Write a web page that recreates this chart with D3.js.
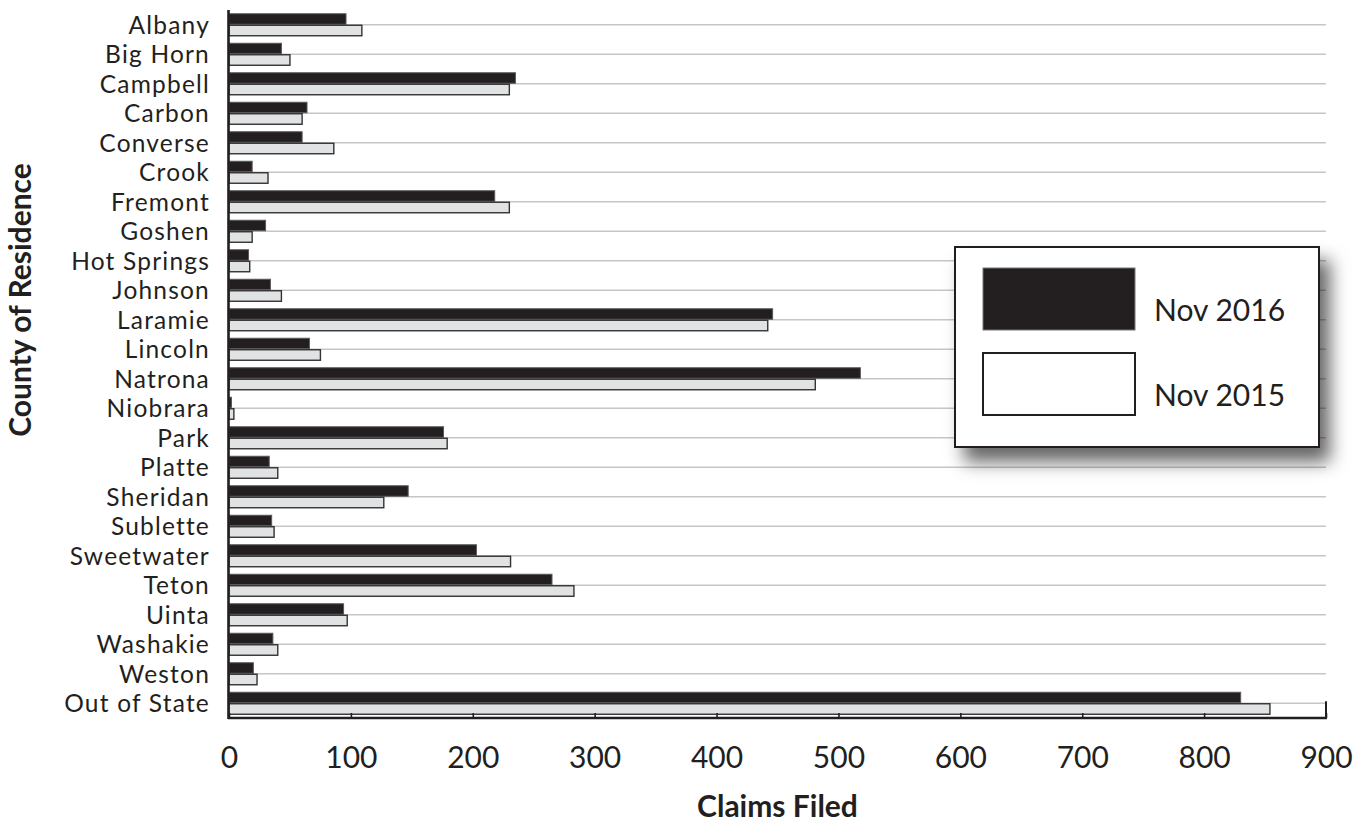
<!DOCTYPE html>
<html>
<head>
<meta charset="utf-8">
<script src="https://cdn.jsdelivr.net/npm/d3@7"></script>
<style>
  html, body { margin: 0; padding: 0; background: #fff; }
  text { font-family: Lato, "Open Sans", sans-serif; fill: #231f20; }
</style>
</head>
<body>
<div class="chart-wrapper"></div>
<script>
const counties = ["Albany", "Big Horn", "Campbell", "Carbon", "Converse", "Crook", "Fremont", "Goshen",
  "Hot Springs", "Johnson", "Laramie", "Lincoln", "Natrona", "Niobrara", "Park", "Platte", "Sheridan",
  "Sublette", "Sweetwater", "Teton", "Uinta", "Washakie", "Weston", "Out of State"];

const nov2016 = [96, 43, 235, 64, 60, 19, 218, 30, 16, 34, 446, 66, 518, 2, 176, 33, 147, 35, 203, 265, 94, 36, 20, 830];
const nov2015 = [109, 50, 230, 60, 86, 32, 230, 19, 17, 43, 442, 75, 481, 4, 179, 40, 127, 37, 231, 283, 97, 40, 23, 854];

const seriesNames = ["Nov 2016", "Nov 2015"];
const xTicks = [0, 100, 200, 300, 400, 500, 600, 700, 800, 900];

const width = 1360;
const height = 825;
const margin = { top: 10, right: 34, bottom: 107, left: 229 };

const rows = counties.map((c, i) => ({ county: c, values: [nov2016[i], nov2015[i]] }));

const svg = d3.select(".chart-wrapper").append("svg")
  .attr("width", width)
  .attr("height", height);

const x = d3.scaleLinear()
  .domain([0, 900])
  .range([margin.left, width - margin.right]);

const y = d3.scaleBand()
  .domain(counties)
  .range([margin.top, height - margin.bottom]);

const barBlock = 23;
const inner = d3.scaleBand()
  .domain(seriesNames)
  .range([(y.bandwidth() - barBlock) / 2, (y.bandwidth() + barBlock) / 2]);

const fills = { "Nov 2016": "#231f20", "Nov 2015": "#e1e2e3" };
const strokes = { "Nov 2016": "#5a5a5a", "Nov 2015": "#333" };

// gridlines through the middle of each county
svg.append("g")
  .selectAll("line")
  .data(counties)
  .join("line")
  .attr("x1", x(0))
  .attr("x2", x(900))
  .attr("y1", d => y(d) + y.bandwidth() / 2)
  .attr("y2", d => y(d) + y.bandwidth() / 2)
  .attr("stroke", "#c6c6c6")
  .attr("stroke-width", 1.4);

// bars
const group = svg.append("g")
  .selectAll("g")
  .data(rows)
  .join("g")
  .attr("transform", d => `translate(0,${y(d.county)})`);

group.selectAll("rect")
  .data(d => d.values.map((v, i) => ({ key: seriesNames[i], value: v })))
  .join("rect")
  .attr("x", x(0))
  .attr("y", d => inner(d.key) + 0.5)
  .attr("width", d => x(d.value) - x(0))
  .attr("height", inner.bandwidth() - 1)
  .attr("fill", d => fills[d.key])
  .attr("stroke", d => strokes[d.key])
  .attr("stroke-width", d => d.key === "Nov 2015" ? 1.4 : 1);

// category labels
svg.append("g")
  .selectAll("text")
  .data(counties)
  .join("text")
  .attr("x", margin.left - 19)
  .attr("y", d => y(d) + y.bandwidth() / 2)
  .attr("dy", "0.36em")
  .attr("text-anchor", "end")
  .style("font-size", "24.5px")
  .style("letter-spacing", "1.2px")
  .text(d => d);

// axes
const yBottom = height - margin.bottom;

const xAxis = svg.append("g")
  .attr("transform", `translate(0,${yBottom})`)
  .call(d3.axisBottom(x).tickValues(xTicks).tickSize(-5).tickPadding(29).tickSizeOuter(0));

xAxis.select(".domain").remove();
xAxis.selectAll(".tick line").attr("stroke", "#231f20").attr("stroke-width", 1.6);
xAxis.selectAll(".tick text")
  .style("font-family", "Lato, \"Open Sans\", sans-serif")
  .style("font-size", "30px")
  .attr("fill", "#231f20");

svg.append("line")
  .attr("x1", x(0) - 1)
  .attr("x2", x(900) + 1)
  .attr("y1", yBottom)
  .attr("y2", yBottom)
  .attr("stroke", "#231f20")
  .attr("stroke-width", 2.6);

svg.append("line")
  .attr("x1", x(900))
  .attr("x2", x(900))
  .attr("y1", y(counties[counties.length - 1]) + y.bandwidth() / 2 - 2)
  .attr("y2", yBottom)
  .attr("stroke", "#231f20")
  .attr("stroke-width", 2);

svg.append("line")
  .attr("x1", x(0) - 0.5)
  .attr("x2", x(0) - 0.5)
  .attr("y1", margin.top)
  .attr("y2", yBottom + 1)
  .attr("stroke", "#231f20")
  .attr("stroke-width", 2.6);

// axis titles
svg.append("text")
  .attr("x", (x(0) + x(900)) / 2)
  .attr("y", 817)
  .attr("text-anchor", "middle")
  .style("font-size", "30px")
  .style("font-weight", "700")
  .text("Claims Filed");

svg.append("text")
  .attr("transform", "translate(31,300) rotate(-90)")
  .attr("text-anchor", "middle")
  .style("font-size", "30px")
  .style("font-weight", "700")
  .text("County of Residence");

// legend with drop shadow
const defs = svg.append("defs");
const shadow = defs.append("filter")
  .attr("id", "shadow")
  .attr("x", "-20%").attr("y", "-20%")
  .attr("width", "150%").attr("height", "150%");
shadow.append("feDropShadow")
  .attr("dx", 10)
  .attr("dy", 14)
  .attr("stdDeviation", 9)
  .attr("flood-color", "#000")
  .attr("flood-opacity", 0.6);

const legend = svg.append("g").attr("transform", "translate(955,247)");

legend.append("rect")
  .attr("width", 364)
  .attr("height", 200)
  .attr("fill", "#fff")
  .attr("stroke", "#231f20")
  .attr("stroke-width", 2)
  .attr("filter", "url(#shadow)");

const legendFills = { "Nov 2016": "#231f20", "Nov 2015": "#fff" };

const item = legend.selectAll(".item")
  .data(seriesNames)
  .join("g")
  .attr("class", "item")
  .attr("transform", (d, i) => `translate(28,${21 + i * 85})`);

item.append("rect")
  .attr("width", 152)
  .attr("height", 62)
  .attr("fill", d => legendFills[d])
  .attr("stroke", d => d === "Nov 2016" ? "#777" : "#231f20")
  .attr("stroke-width", d => d === "Nov 2016" ? 1 : 2);

item.append("text")
  .attr("x", 171)
  .attr("y", 53)
  .style("font-size", "30px")
  .text(d => d);
</script>
</body>
</html>
